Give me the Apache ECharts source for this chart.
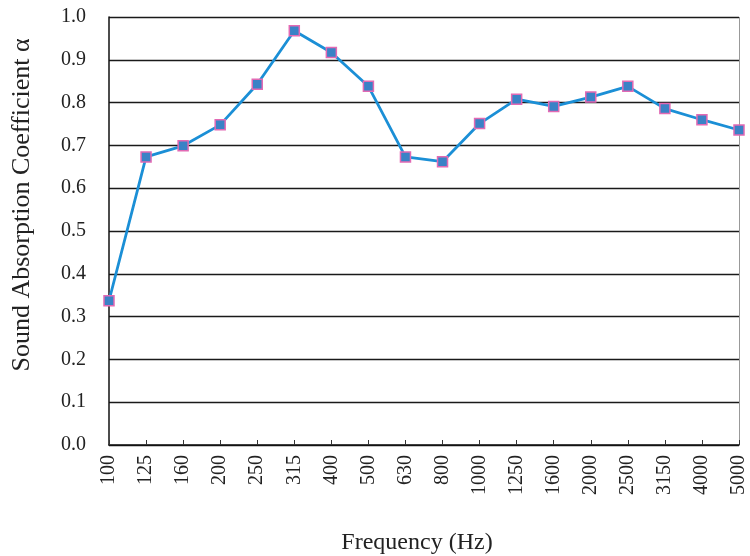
<!DOCTYPE html>
<html><head><meta charset="utf-8">
<script src="https://cdn.jsdelivr.net/npm/echarts@6/dist/echarts.min.js"></script>
<style>html,body{margin:0;padding:0;background:#fff}#c{width:750px;height:556px}</style>
</head><body><div id="c"></div>
<script>
var categories = ['100','125','160','200','250','315','400','500','630','800','1000','1250','1600','2000','2500','3150','4000','5000'];
var values = [0.337, 0.673, 0.699, 0.748, 0.843, 0.968, 0.917, 0.838, 0.673, 0.662, 0.751, 0.808, 0.791, 0.813, 0.838, 0.786, 0.760, 0.736];
var yTicks = {min: 0, max: 1.0, interval: 0.1};

var chart = echarts.init(document.getElementById('c'));
var font = 'Liberation Serif';
chart.setOption({
  animation: false,
  backgroundColor: '#fff',
  grid: {left: 109, right: 11, top: 17, bottom: 111, containLabel: false, outerBoundsMode: 'none'},
  xAxis: {
    type: 'category', data: categories, boundaryGap: false,
    name: 'Frequency (Hz)', nameLocation: 'middle', nameGap: 86,
    nameTextStyle: {fontFamily: font, fontSize: 24, color: '#222', padding: [0, 14, 0, 0]},
    axisLine: {lineStyle: {color: '#111', width: 1.5}},
    axisTick: {show: true, inside: true, length: 5, lineStyle: {color: '#333'}},
    axisLabel: {rotate: 90, fontFamily: font, fontSize: 20, color: '#222', margin: 10, interval: 0},
    splitLine: {show: true, interval: function (i) { return i === categories.length - 1; }, lineStyle: {color: '#999', width: 1}}
  },
  yAxis: {
    type: 'value', min: yTicks.min, max: yTicks.max, interval: yTicks.interval,
    name: 'Sound Absorption Coefficient α', nameLocation: 'middle', nameGap: 74,
    nameTextStyle: {fontFamily: font, fontSize: 26, color: '#222', padding: [0, 0, 0, 52]},
    axisLine: {show: true, lineStyle: {color: '#111', width: 1.5}},
    axisTick: {show: false},
    axisLabel: {fontFamily: font, fontSize: 20, color: '#222', margin: 23, formatter: function (v) { return v.toFixed(1); }},
    splitLine: {show: true, lineStyle: {color: '#1a1a1a', width: 1.4}}
  },
  series: [{
    type: 'line', data: values,
    symbol: 'rect', symbolSize: 10,
    lineStyle: {color: '#1b8fd6', width: 2.8},
    itemStyle: {color: '#3a82c6', borderColor: '#e26ab4', borderWidth: 1.5}
  }]
});
</script></body></html>
